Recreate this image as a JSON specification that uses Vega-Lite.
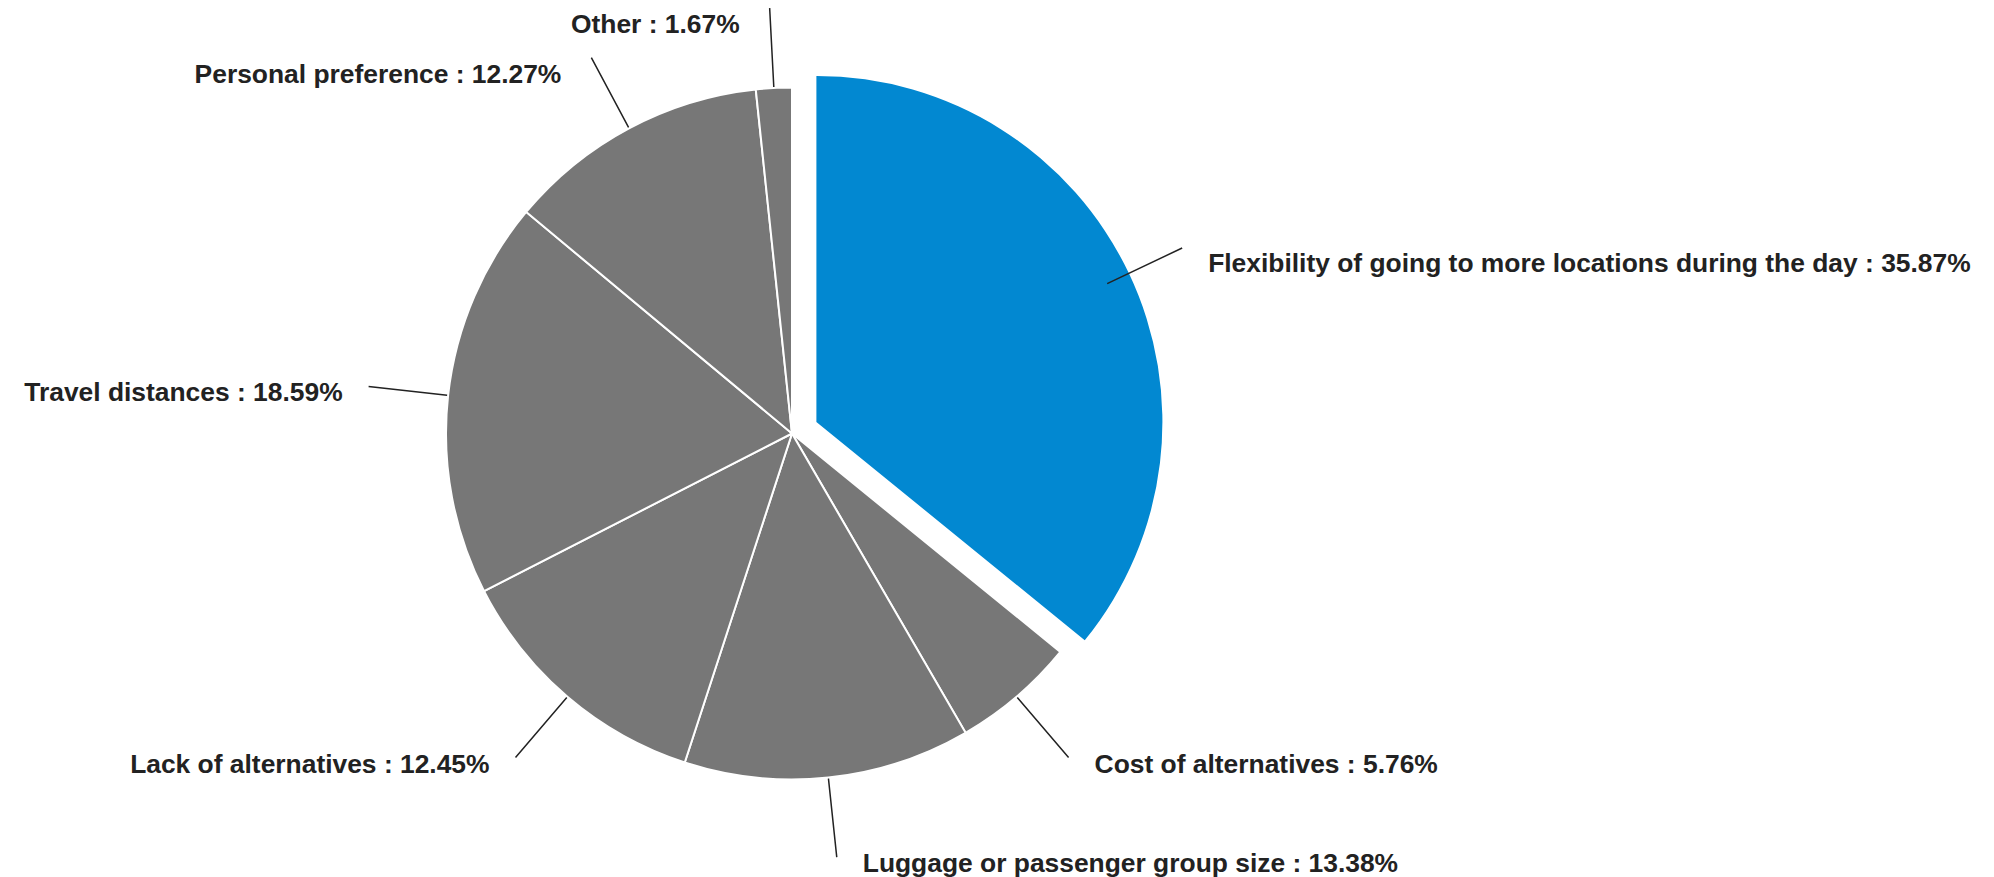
{
  "$schema": "https://vega.github.io/schema/vega-lite/v6.json",
  "autosize": "none",
  "width": 1584,
  "height": 867,
  "padding": {"left": 0, "top": 0, "right": 410, "bottom": 10},
  "background": "white",
  "config": {"view": {"stroke": null}},
  "data": {
    "values": [
      {"reason": "Flexibility of going to more locations during the day", "pct": 35.87, "order": 1},
      {"reason": "Cost of alternatives", "pct": 5.76, "order": 2},
      {"reason": "Luggage or passenger group size", "pct": 13.38, "order": 3},
      {"reason": "Lack of alternatives", "pct": 12.45, "order": 4},
      {"reason": "Travel distances", "pct": 18.59, "order": 5},
      {"reason": "Personal preference", "pct": 12.27, "order": 6},
      {"reason": "Other", "pct": 1.67, "order": 7}
    ]
  },
  "transform": [
    {"stack": "pct", "groupby": [], "sort": [{"field": "order", "order": "ascending"}], "as": ["v0", "v1"]},
    {"calculate": "(datum.v0 + datum.v1) / 2", "as": "mid"},
    {"calculate": "datum.reason + ' : ' + format(datum.pct, '.2f') + '%'", "as": "label"}
  ],
  "layer": [
    {
      "transform": [{"filter": "datum.order != 1"}],
      "mark": {"type": "arc", "outerRadius": 346, "fill": "#777777", "stroke": "white", "strokeWidth": 2},
      "encoding": {
        "theta": {"field": "v0", "type": "quantitative", "stack": null, "scale": {"domain": [0, 99.99]}},
        "theta2": {"field": "v1"}
      }
    },
    {
      "transform": [{"filter": "datum.order == 1"}],
      "mark": {"type": "arc", "outerRadius": 346, "fill": "#0288D1", "xOffset": 24.4, "yOffset": -11.6},
      "encoding": {
        "theta": {"field": "v0", "type": "quantitative", "stack": null},
        "theta2": {"field": "v1"}
      }
    },
    {
      "transform": [{"filter": "datum.order != 1"}],
      "mark": {"type": "arc", "innerRadius": 347, "outerRadius": 426, "fillOpacity": 0, "stroke": "#222222", "strokeWidth": 1.5},
      "encoding": {
        "theta": {"field": "mid", "type": "quantitative", "stack": null},
        "theta2": {"field": "mid"}
      }
    },
    {
      "transform": [{"filter": "datum.order == 1"}],
      "mark": {"type": "arc", "innerRadius": 322, "outerRadius": 405, "fillOpacity": 0, "stroke": "#222222", "strokeWidth": 1.5, "xOffset": 24.4, "yOffset": -11.6},
      "encoding": {
        "theta": {"field": "mid", "type": "quantitative", "stack": null},
        "theta2": {"field": "mid"}
      }
    },
    {
      "transform": [{"filter": "datum.order != 1 && datum.mid < 50"}],
      "mark": {"type": "text", "radius": 426, "align": "left", "baseline": "middle", "dx": 26, "dy": 7, "font": "Liberation Sans", "fontWeight": "bold", "fontSize": 26.4, "fill": "#222222"},
      "encoding": {
        "theta": {"field": "mid", "type": "quantitative", "stack": null},
        "text": {"field": "label", "type": "nominal"}
      }
    },
    {
      "transform": [{"filter": "datum.mid >= 50 && datum.mid < 80"}],
      "mark": {"type": "text", "radius": 426, "align": "right", "baseline": "middle", "dx": -26, "dy": 7, "font": "Liberation Sans", "fontWeight": "bold", "fontSize": 26.4, "fill": "#222222"},
      "encoding": {
        "theta": {"field": "mid", "type": "quantitative", "stack": null},
        "text": {"field": "label", "type": "nominal"}
      }
    },
    {
      "transform": [{"filter": "datum.mid >= 80"}],
      "mark": {"type": "text", "radius": 426, "align": "right", "baseline": "middle", "dx": -30, "dy": 17, "font": "Liberation Sans", "fontWeight": "bold", "fontSize": 26.4, "fill": "#222222"},
      "encoding": {
        "theta": {"field": "mid", "type": "quantitative", "stack": null},
        "text": {"field": "label", "type": "nominal"}
      }
    },
    {
      "transform": [{"filter": "datum.order == 1"}],
      "mark": {"type": "text", "radius": 405, "align": "left", "baseline": "middle", "dx": 50.4, "dy": 4.4, "font": "Liberation Sans", "fontWeight": "bold", "fontSize": 26.4, "fill": "#222222"},
      "encoding": {
        "theta": {"field": "mid", "type": "quantitative", "stack": null},
        "text": {"field": "label", "type": "nominal"}
      }
    }
  ]
}
